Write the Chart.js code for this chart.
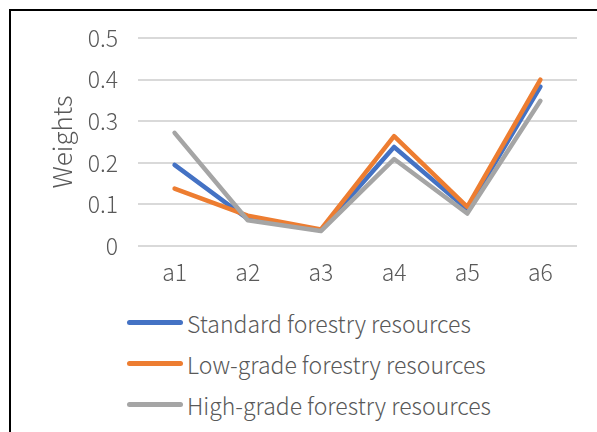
<!DOCTYPE html>
<html>
<head>
<meta charset="utf-8">
<script src="https://cdn.jsdelivr.net/npm/chart.js@4"></script>
<style>
  html, body { margin: 0; padding: 0; background: #fff; }
  #wrap { position: relative; width: 597px; height: 432px; overflow: hidden; }
  #frame { position: absolute; left: 9px; top: 9px; width: 700px; height: 600px;
           border-left: 2px solid #000; border-top: 2px solid #000; }
  #c { position: absolute; left: 0; top: 0; }
  #legend { position: absolute; left: 127px; top: 302px;
            font-family: "Noto Sans CJK SC", sans-serif; font-weight: 300;
            font-size: 23px; color: #595959; }
  .row { display: flex; align-items: center; height: 41px; white-space: nowrap; }
  .sw { width: 56px; height: 5px; border-radius: 3px; margin-right: 4px; }
</style>
</head>
<body>
<div id="wrap">
  <div id="frame"></div>
  <canvas id="c" width="597" height="300"></canvas>
  <div id="legend"></div>
</div>
<script>
const categories = ['a1', 'a2', 'a3', 'a4', 'a5', 'a6'];
const standardWeights  = [0.195, 0.065, 0.038, 0.238, 0.088, 0.383];
const lowGradeWeights  = [0.138, 0.073, 0.040, 0.264, 0.094, 0.400];
const highGradeWeights = [0.272, 0.062, 0.036, 0.209, 0.078, 0.349];
const yTickLabels = ['0', '0.1', '0.2', '0.3', '0.4', '0.5'];
const seriesNames = ['Standard forestry resources', 'Low-grade forestry resources', 'High-grade forestry resources'];
const seriesColors = ['#4472C4', '#ED7D31', '#A5A5A5'];

const FONT = '"Noto Sans CJK SC", sans-serif';
const TEXT = '#595959';

const series = [standardWeights, lowGradeWeights, highGradeWeights];
const datasets = series.map((vals, i) => ({
  label: seriesNames[i],
  data: vals,
  borderColor: seriesColors[i],
  backgroundColor: seriesColors[i],
  borderWidth: 4.5,
  pointRadius: 0,
  tension: 0,
  borderCapStyle: 'round',
  borderJoinStyle: 'round',
  order: series.length - 1 - i   // later series drawn on top
}));

new Chart(document.getElementById('c'), {
  type: 'line',
  data: { labels: categories, datasets },
  options: {
    responsive: false,
    animation: false,
    layout: { padding: { left: 0, top: 38, right: 20, bottom: 0 } },
    plugins: { legend: { display: false }, tooltip: { enabled: false } },
    scales: {
      x: {
        offset: true,
        grid: { display: false, drawTicks: false },
        border: { display: false },
        ticks: { color: TEXT, font: { family: FONT, size: 23, weight: 300 }, padding: 12 },
        afterFit: s => { s.height = 300 - 246; }
      },
      y: {
        min: 0, max: 0.5,
        ticks: {
          stepSize: 0.1,
          color: TEXT,
          font: { family: FONT, size: 23, weight: 300 },
          padding: 20,
          callback: (v, i) => yTickLabels[i]
        },
        grid: { color: '#D9D9D9', lineWidth: 2, drawTicks: false },
        border: { display: false },
        title: {
          display: true, text: 'Weights', color: TEXT,
          font: { family: FONT, size: 26, weight: 300 },
          padding: { top: 47, bottom: 0 }
        },
        afterFit: s => { s.width = 138; }
      }
    }
  }
});

// legend rows built from the series names and colours
const legend = document.getElementById('legend');
seriesNames.forEach((name, i) => {
  const row = document.createElement('div');
  row.className = 'row';
  const sw = document.createElement('span');
  sw.className = 'sw';
  sw.style.background = seriesColors[i];
  const txt = document.createElement('span');
  txt.textContent = name;
  row.appendChild(sw);
  row.appendChild(txt);
  legend.appendChild(row);
});
</script>
</body>
</html>
